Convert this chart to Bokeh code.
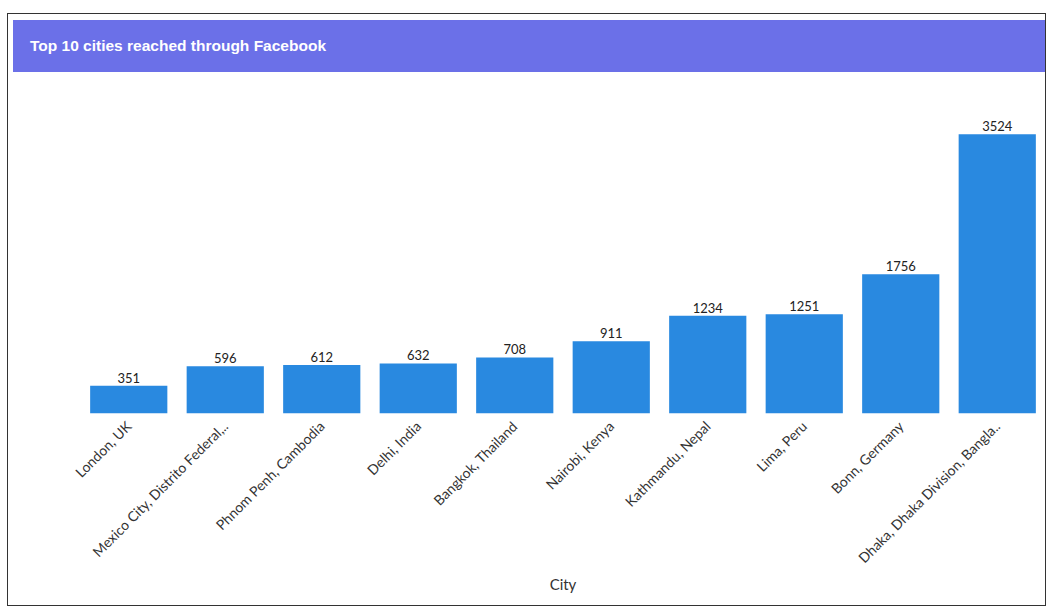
from bokeh.plotting import figure
from bokeh.models import ColumnDataSource, LabelSet, Range1d, FactorRange, Div
from bokeh.layouts import column
from bokeh.embed import file_html
from bokeh.resources import INLINE
from bokeh.core.properties import value
import math

title_text = "Top 10 cities reached through Facebook"
cities = ["London, UK", "Mexico City, Distrito Federal,..", "Phnom Penh, Cambodia", "Delhi, India",
          "Bangkok, Thailand", "Nairobi, Kenya", "Kathmandu, Nepal", "Lima, Peru",
          "Bonn, Germany", "Dhaka, Dhaka Division, Bangla.."]
reach = [351, 596, 612, 632, 708, 911, 1234, 1251, 1756, 3524]
x_title = "City"

src = ColumnDataSource(dict(city=cities, reach=reach, lbl=[str(v) for v in reach]))

header = Div(text=title_text, width=1032, height=52, margin=(6, 0, 0, 5),
             styles={"background-color": "#6b70e8", "color": "white",
                     "font-family": "'Liberation Sans', Arial, sans-serif",
                     "font-weight": "bold", "font-size": "15.5px",
                     "padding-left": "17px", "line-height": "52px",
                     "box-sizing": "border-box"})

p = figure(x_range=FactorRange(*cities, range_padding=0), y_range=Range1d(0, 3950),
           width=1032, height=533, output_backend="svg", toolbar_location=None,
           min_border_left=67, min_border_right=0, min_border_top=28, min_border_bottom=192,
           margin=(0, 0, 0, 5))
p.vbar(x="city", top="reach", width=0.8, source=src, fill_color="#2989e0", line_color=None)
p.add_layout(LabelSet(x="city", y="reach", text="lbl", source=src, y_offset=3,
                      text_align="center", text_baseline="bottom",
                      text_font=value("Lato"), text_font_size="13px", text_color="#222222"))
p.yaxis.visible = False
p.xgrid.grid_line_color = None
p.ygrid.grid_line_color = None
p.outline_line_color = None
p.xaxis.axis_line_color = None
p.xaxis.major_tick_line_color = None
p.xaxis.minor_tick_line_color = None
p.xaxis.major_label_orientation = math.pi / 4
p.xaxis.major_label_text_font = "Lato"
p.xaxis.major_label_text_font_size = "14px"
p.xaxis.major_label_text_color = "#333333"
p.xaxis.major_label_standoff = 4
p.xaxis.axis_label = x_title
p.xaxis.axis_label_text_font = "Lato"
p.xaxis.axis_label_text_font_size = "15px"
p.xaxis.axis_label_text_font_style = "normal"
p.xaxis.axis_label_text_color = "#333333"
p.xaxis.axis_label_standoff = 0

layout = column(header, p, margin=(13, 0, 0, 7), styles={"border": "1px solid #333333"})

open("out.html", "w").write(file_html(layout, INLINE))
